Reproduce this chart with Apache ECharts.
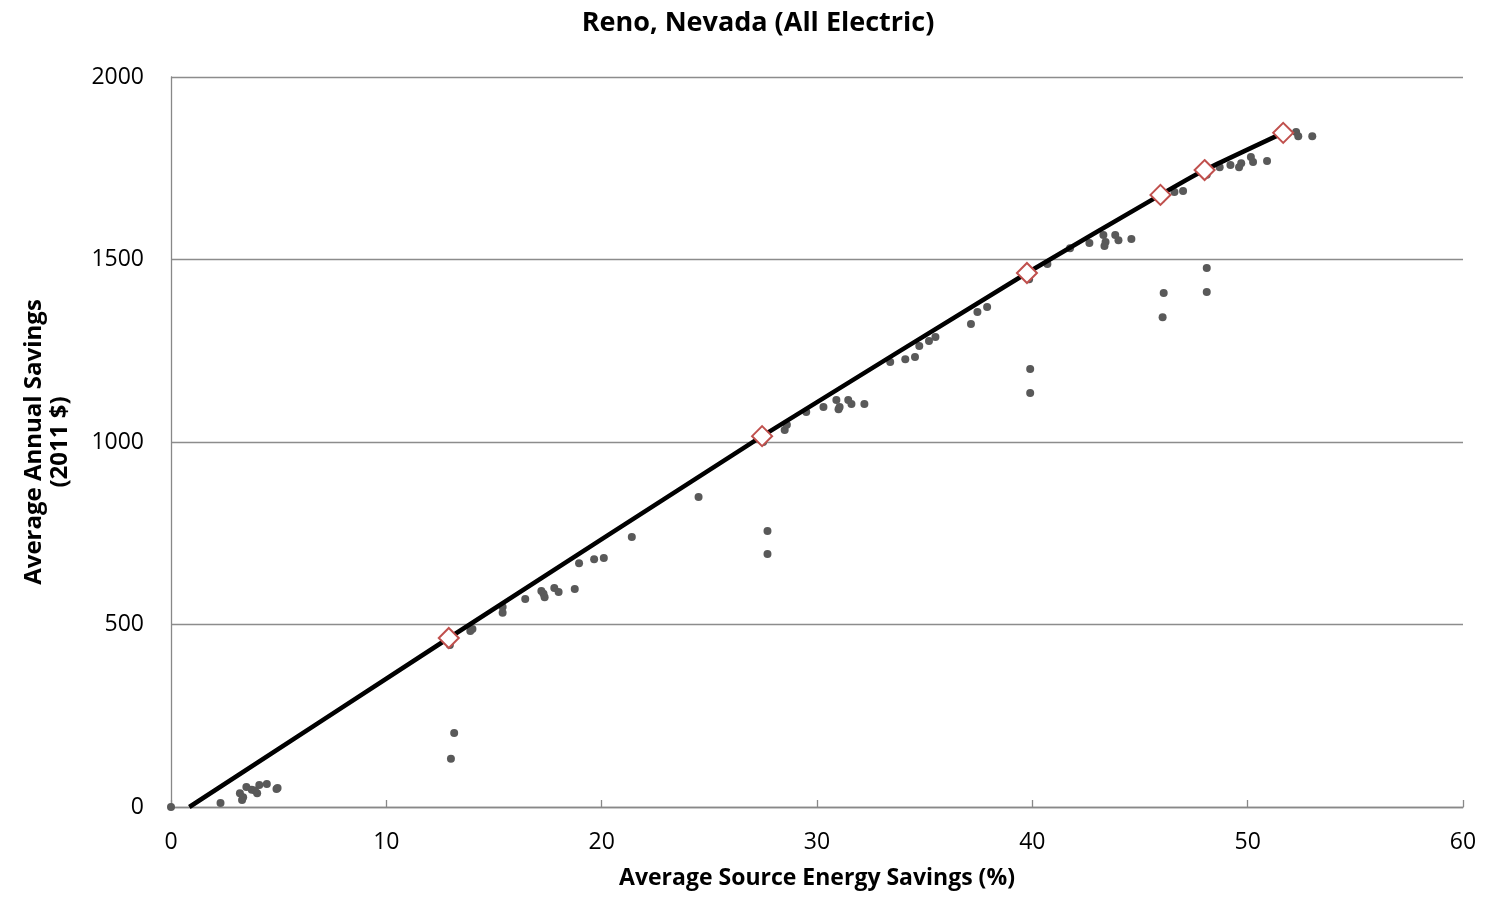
<!DOCTYPE html>
<html><head><meta charset="utf-8">
<script src="https://cdn.jsdelivr.net/npm/echarts@6/dist/echarts.min.js"></script>
<style>html,body{margin:0;padding:0;background:#fff}#c{width:1488px;height:908px}</style>
</head><body><div id="c"></div>
<script>
const titleText = 'Reno, Nevada (All Electric)';
const xAxisName = 'Average Source Energy Savings (%)';
const yAxisName = 'Average Annual Savings\n(2011 $)';

// scatter of individual packages: [source savings %, annual savings $]
const packages = [
  [0,0],[2.3,11],[3.2,38],[3.3,19],[3.35,27],[3.5,55],[3.75,47],[4.0,38],[3.9,45],[4.1,60],[4.45,63],[4.9,49],[4.95,52],
  [12.95,444],[13.0,132],[13.15,203],[13.9,482],[14.0,488],[15.4,532],[15.4,548],[16.45,570],
  [17.2,592],[17.3,584],[17.35,575],[17.8,600],[18.0,589],[18.75,597],[18.95,668],[19.65,679],[20.1,682],
  [21.4,740],[24.5,849],
  [27.5,1000],[27.7,756],[27.7,693],[28.5,1033],[28.6,1047],[29.5,1082],[30.3,1096],[30.9,1115],[31.0,1090],[31.05,1096],
  [31.45,1115],[31.6,1104],[32.2,1104],
  [33.4,1219],[34.1,1227],[34.55,1233],[34.75,1263],[35.2,1277],[35.5,1288],[37.15,1323],[37.45,1356],[37.9,1370],
  [39.85,1446],[39.9,1200],[39.9,1134],[40.7,1488],[41.75,1531],[42.65,1545],[43.3,1567],[43.4,1548],[43.35,1537],
  [43.85,1567],[44.0,1553],[44.6,1556],
  [46.0,1666],[46.1,1408],[46.05,1342],[46.6,1685],[47.0,1688],
  [48.1,1732],[48.1,1477],[48.1,1411],[48.7,1753],[49.2,1759],[49.6,1753],[49.7,1764],[50.15,1781],[50.25,1767],[50.9,1770],
  [52.25,1849],[52.35,1838],[53.0,1838]
];

// least-cost curve
const curveStart = [[0.85,0]];
const curveOptima = [[12.9,463],[27.45,1016],[39.75,1463],[45.95,1677],[48.0,1745],[51.65,1847]];

const xTicks = [0,10,20,30,40,50,60];
const yTicks = [0,500,1000,1500,2000];

const chart = echarts.init(document.getElementById('c'));
const font = 'Open Sans';
chart.setOption({
  animation:false,
  title:{text:titleText,left:753,top:5,textAlign:'center',
    textStyle:{fontFamily:font,fontWeight:'bold',fontSize:27,color:'#000'}},
  grid:{left:171,right:25,top:77,bottom:101,containLabel:false,outerBoundsMode:'none'},
  xAxis:{type:'value',min:xTicks[0],max:xTicks[xTicks.length-1],interval:10,
    name:xAxisName,nameLocation:'middle',nameGap:60,
    nameTextStyle:{fontFamily:font,fontWeight:'bold',fontSize:23,color:'#000'},
    axisLine:{lineStyle:{color:'#888',width:1.3}},
    axisTick:{show:true,inside:true,length:7,lineStyle:{color:'#888',width:1.3}},
    axisLabel:{fontFamily:font,fontSize:23,color:'#000',margin:24,formatter:v=>String(v)},
    splitLine:{show:false}},
  yAxis:{type:'value',min:yTicks[0],max:yTicks[yTicks.length-1],interval:500,
    name:yAxisName,nameLocation:'middle',nameGap:98,nameRotate:90,
    nameTextStyle:{fontFamily:font,fontWeight:'bold',fontSize:24,color:'#000',lineHeight:26},
    axisLine:{show:true,lineStyle:{color:'#888',width:1.3}},
    axisTick:{show:false},
    axisLabel:{fontFamily:font,fontSize:23,color:'#000',margin:27,formatter:v=>String(v)},
    splitLine:{lineStyle:{color:'#8c8c8c',width:1.3}}},
  series:[
    {type:'scatter',data:packages,symbol:'circle',symbolSize:8,
      itemStyle:{color:'#595959',opacity:1},z:2},
    {type:'line',data:curveStart.concat(curveOptima),smooth:0.15,showSymbol:false,symbol:'none',
      lineStyle:{color:'#000',width:4.5},z:3},
    {type:'scatter',data:curveOptima,symbol:'diamond',symbolSize:[20,20],
      itemStyle:{color:'#fff',borderColor:'#c0504d',borderWidth:2,opacity:1},z:4}
  ]
});
</script></body></html>
